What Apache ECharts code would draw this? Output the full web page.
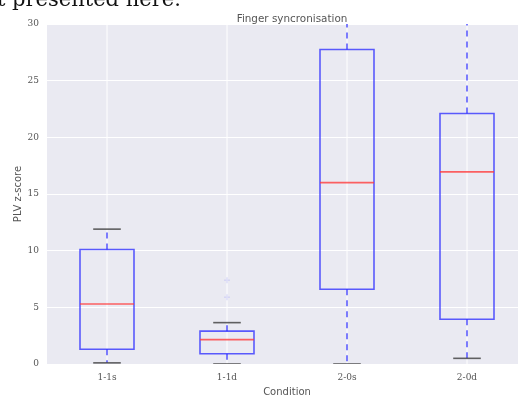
<!DOCTYPE html>
<html>
<head>
<meta charset="utf-8">
<style>
  html, body { margin: 0; padding: 0; background: #fff; }
  #chart { width: 518px; height: 399px; }
</style>
<script src="https://cdn.jsdelivr.net/npm/echarts@6/dist/echarts.min.js"></script>
</head>
<body>
<div id="chart"></div>
<script>
// Conditions on the x axis
const categories = ['1-1s', '1-1d', '2-0s', '2-0d'];
// Box statistics per condition (PLV z-score)
const whiskerLow  = [0.1, 0.0, 0.0, 0.5];
const quartile1   = [1.3, 0.9, 6.6, 3.95];
const medians     = [5.3, 2.15, 16.0, 16.95];
const quartile3   = [10.1, 2.9, 27.75, 22.1];
const whiskerHigh = [11.9, 3.65, 38.0, 36.0];
// Outlying points: [condition index, value]
const fliers = [[1, 7.4], [1, 5.9]];
// y tick values
const yTicks = [0, 5, 10, 15, 20, 25, 30];

const boxData = categories.map((c, i) =>
  [i, whiskerLow[i], quartile1[i], medians[i], quartile3[i], whiskerHigh[i]]);

const serifFont = '"DejaVu Serif", "Liberation Serif", serif';
const sansFont = '"DejaVu Sans", "Open Sans", sans-serif';

function renderBox(params, api) {
  const idx = api.value(0);
  const lo = api.coord([idx, api.value(1)]);
  const q1 = api.coord([idx, api.value(2)]);
  const md = api.coord([idx, api.value(3)]);
  const q3 = api.coord([idx, api.value(4)]);
  const hi = api.coord([idx, api.value(5)]);
  const band = api.size([1, 0])[0];
  const halfBox = band * 0.225;
  const halfCap = band * 0.115;
  const x = q1[0];
  const cs = params.coordSys;
  const blue = 'rgba(40,40,255,0.75)';
  const dash = { stroke: blue, lineWidth: 1.6, lineDash: [6, 5] };
  return {
    type: 'group',
    children: [
      // vertical grid line at the category centre
      { type: 'line', z2: 0, shape: { x1: x, y1: cs.y, x2: x, y2: cs.y + cs.height },
        style: { stroke: '#ffffff', lineWidth: 1 } },
      // whiskers
      { type: 'line', z2: 1, shape: { x1: x, y1: q3[1], x2: x, y2: hi[1] }, style: dash },
      { type: 'line', z2: 1, shape: { x1: x, y1: q1[1], x2: x, y2: lo[1] }, style: dash },
      // caps
      { type: 'line', z2: 2, shape: { x1: x - halfCap, y1: hi[1], x2: x + halfCap, y2: hi[1] },
        style: { stroke: 'rgba(60,60,60,0.8)', lineWidth: 1.6 } },
      { type: 'line', z2: 2, shape: { x1: x - halfCap, y1: lo[1], x2: x + halfCap, y2: lo[1] },
        style: { stroke: 'rgba(60,60,60,0.8)', lineWidth: 1.6 } },
      // box
      { type: 'rect', z2: 3, shape: { x: x - halfBox, y: q3[1], width: halfBox * 2, height: q1[1] - q3[1] },
        style: { fill: 'none', stroke: blue, lineWidth: 1.6 } },
      // median
      { type: 'line', z2: 4, shape: { x1: x - halfBox, y1: md[1], x2: x + halfBox, y2: md[1] },
        style: { stroke: 'rgba(255,60,60,0.8)', lineWidth: 1.6 } }
    ]
  };
}

const chart = echarts.init(document.getElementById('chart'), null, { renderer: 'canvas' });
chart.setOption({
  animation: false,
  backgroundColor: '#ffffff',
  title: {
    text: 'Finger syncronisation',
    left: 287, top: 9, textAlign: 'center',
    textStyle: { fontFamily: sansFont, fontSize: 10.4, fontWeight: 'normal', color: '#555' }
  },
  graphic: [{
    type: 'text', left: -3, top: -10,
    style: { text: 't presented here.', fontFamily: serifFont, fontSize: 21, fill: '#111' }
  }],
  grid: {
    left: 47, top: 24, width: 480, height: 340,
    outerBoundsMode: 'none', containLabel: false,
    show: true, backgroundColor: '#EAEAF2', borderWidth: 0
  },
  xAxis: {
    type: 'category', data: categories,
    name: 'Condition', nameLocation: 'middle', nameGap: 23, nameMoveOverlap: false,
    nameTextStyle: { fontFamily: sansFont, fontSize: 10, color: '#555' },
    axisLine: { show: false }, axisTick: { show: false },
    splitLine: { show: false },
    axisLabel: { fontFamily: serifFont, fontSize: 9, color: '#555', margin: 9 }
  },
  yAxis: {
    type: 'value', min: 0, max: 30, interval: 5,
    name: 'PLV z-score', nameLocation: 'middle', nameGap: 24, nameMoveOverlap: false,
    nameTextStyle: { fontFamily: sansFont, fontSize: 10, color: '#555' },
    axisLine: { show: false }, axisTick: { show: false },
    splitLine: { show: true, lineStyle: { color: '#ffffff', width: 1 } },
    axisLabel: {
      fontFamily: serifFont, fontSize: 9, color: '#555', margin: 8,
      formatter: v => (yTicks.includes(v) ? String(v) : '')
    }
  },
  series: [
    {
      type: 'custom', clip: true,
      renderItem: renderBox,
      encode: { x: 0, y: [1, 2, 3, 4, 5] },
      data: boxData
    },
    {
      type: 'scatter',
      symbol: 'path://M0,5L10,5M5,0L5,10',
      symbolSize: 6,
      itemStyle: { color: 'none', borderColor: 'rgba(170,170,245,0.4)', borderWidth: 1.5 },
      data: fliers
    }
  ]
});
</script>
</body>
</html>
